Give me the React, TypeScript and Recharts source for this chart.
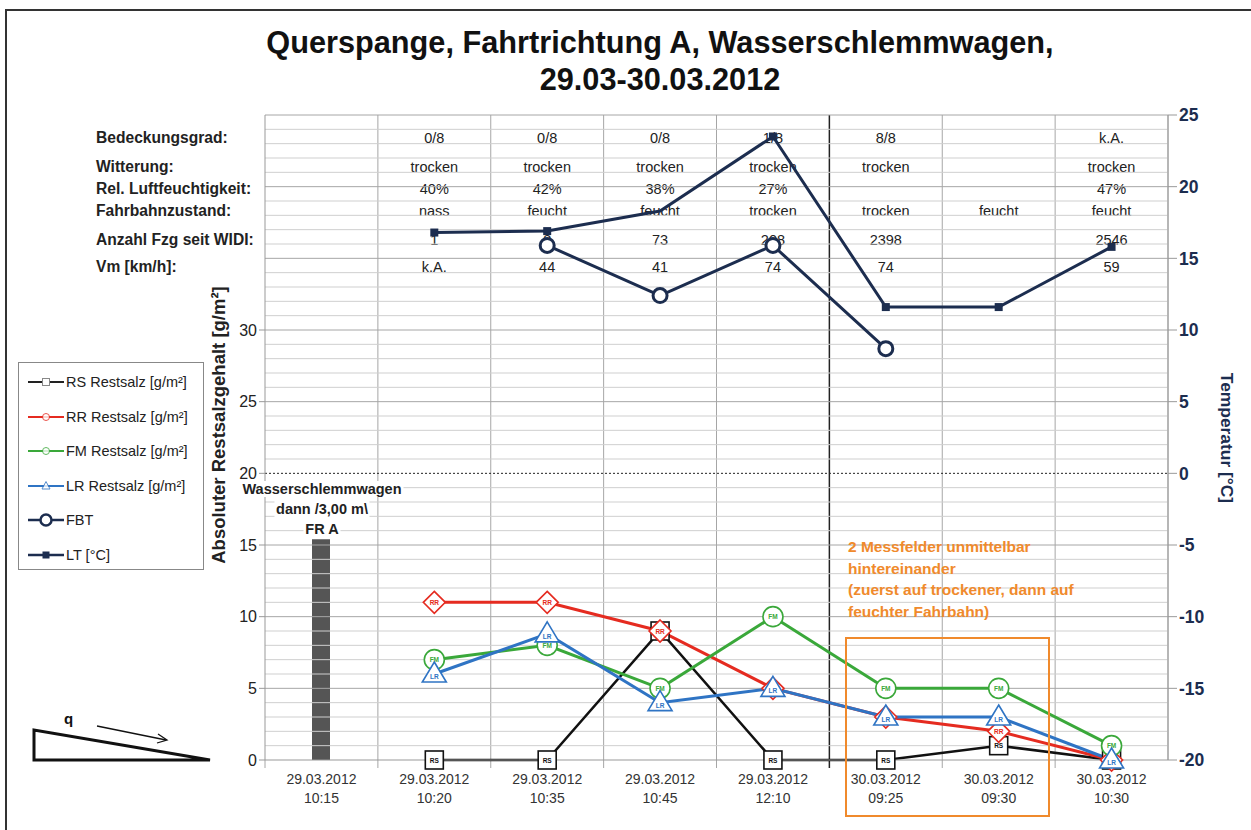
import React from 'react';
import { ComposedChart, Line, Bar, XAxis, YAxis, ReferenceLine } from 'recharts';

// categories (measurement times)
const DATES = ['29.03.2012', '29.03.2012', '29.03.2012', '29.03.2012', '29.03.2012', '30.03.2012', '30.03.2012', '30.03.2012'];
const TIMES = ['10:15', '10:20', '10:35', '10:45', '12:10', '09:25', '09:30', '10:30'];

// residual salt [g/m²], left axis
const SCHLEMM = [15.4, null, null, null, null, null, null, null];
const RS = [null, 0, 0, 9, 0, 0, 1, 0];
const RR = [null, 11, 11, 9, 5, 3, 2, 0];
const FM = [null, 7, 8, 5, 10, 5, 5, 1];
const LR = [null, 6, 8.8, 4, 5, 3, 3, 0];

// temperatures [°C], right axis
const FBT = [null, null, 15.9, 12.4, 15.9, 8.7, null, null];
const LT = [null, 16.8, 16.9, 18.3, 23.5, 11.6, 11.6, 15.8];

// header table
const ROW_LABELS = ['Bedeckungsgrad:', 'Witterung:', 'Rel. Luftfeuchtigkeit:', 'Fahrbahnzustand:', 'Anzahl Fzg seit WIDI:', 'Vm [km/h]:'];
const BEDECKUNG = ['', '0/8', '0/8', '0/8', '1/8', '8/8', '', 'k.A.'];
const WITTERUNG = ['', 'trocken', 'trocken', 'trocken', 'trocken', 'trocken', '', 'trocken'];
const FEUCHTE = ['', '40%', '42%', '38%', '27%', '', '', '47%'];
const FAHRBAHN = ['', 'nass', 'feucht', 'feucht', 'trocken', 'trocken', 'feucht', 'feucht'];
const ANZAHL = ['', '1', '8', '73', '208', '2398', '', '2546'];
const VM = ['', 'k.A.', '44', '41', '74', '74', '', '59'];
const TABLE = [BEDECKUNG, WITTERUNG, FEUCHTE, FAHRBAHN, ANZAHL, VM];

const LEFT_TICKS = [0, 5, 10, 15, 20, 25, 30];
const RIGHT_TICKS = [-20, -15, -10, -5, 0, 5, 10, 15, 20, 25];
const GRID_VALUES = Array.from({ length: 45 }, (_, i) => i + 1);

const W = 1251;
const H = 830;
const PLOT_LEFT = 265;
const PLOT_RIGHT = 1168;
const PLOT_TOP = 115;
const PLOT_BOTTOM = 760;
const BAND = (PLOT_RIGHT - PLOT_LEFT) / TIMES.length;
const ROW_Y = [138, 167, 189, 211, 240, 267];

const FONT = '"Liberation Sans", Arial, sans-serif';
const NAVY = '#1c2d4f';
const RED = '#e52b20';
const GREEN = '#3aa83a';
const BLUE = '#2f74c4';
const ORANGE = '#f08a2c';

const data = TIMES.map((t, i) => ({
  cat: DATES[i] + '|' + t,
  schlemm: SCHLEMM[i],
  rs: RS[i],
  rr: RR[i],
  fm: FM[i],
  lr: LR[i],
  fbt: FBT[i],
  lt: LT[i],
}));

function DateTick({ x, y, payload }: any) {
  const [d, t] = String(payload.value).split('|');
  return (
    <text x={x} y={y} textAnchor="middle" fontSize={14} fill="#333" fontFamily={FONT}>
      <tspan x={x} dy={16}>{d}</tspan>
      <tspan x={x} dy={19}>{t}</tspan>
    </text>
  );
}

const tag = (label: string, color: string, dy = 2.5) => (
  <text x={0} y={dy} textAnchor="middle" fontSize={6.5} fontWeight="bold" fill={color} fontFamily={FONT}>
    {label}
  </text>
);

function RsDot({ cx, cy }: any) {
  if (cx == null || cy == null) return <g />;
  return (
    <g transform={`translate(${cx},${cy})`}>
      <rect x={-9} y={-9} width={18} height={18} fill="#fff" stroke="#111" strokeWidth={1.6} />
      {tag('RS', '#111')}
    </g>
  );
}

function RrDot({ cx, cy }: any) {
  if (cx == null || cy == null) return <g />;
  return (
    <g transform={`translate(${cx},${cy})`}>
      <polygon points="0,-11 11,0 0,11 -11,0" fill="#fff" stroke={RED} strokeWidth={1.6} />
      {tag('RR', RED)}
    </g>
  );
}

function FmDot({ cx, cy }: any) {
  if (cx == null || cy == null) return <g />;
  return (
    <g transform={`translate(${cx},${cy})`}>
      <circle r={10} fill="#fff" stroke={GREEN} strokeWidth={1.6} />
      {tag('FM', GREEN)}
    </g>
  );
}

function LrDot({ cx, cy }: any) {
  if (cx == null || cy == null) return <g />;
  return (
    <g transform={`translate(${cx},${cy})`}>
      <polygon points="0,-12 12,8 -12,8" fill="#fff" stroke={BLUE} strokeWidth={1.6} />
      {tag('LR', BLUE, 5)}
    </g>
  );
}

function FbtDot({ cx, cy }: any) {
  if (cx == null || cy == null) return <g />;
  return <circle cx={cx} cy={cy} r={7} fill="#fff" stroke={NAVY} strokeWidth={3} />;
}

function LtDot({ cx, cy, index }: any) {
  // no marker visible at 10:45 in the original
  if (cx == null || cy == null || index === 3) return <g />;
  return <rect x={cx - 4} y={cy - 4} width={8} height={8} fill={NAVY} />;
}

// vertical separators between the categories (Excel style), day change in black
function CategoryBorders() {
  return (
    <g>
      {TIMES.map((_, i) => {
        const b = i + 1;
        const x = PLOT_LEFT + BAND * b;
        const dayChange = b === 5;
        return (
          <line
            key={b}
            x1={x}
            x2={x}
            y1={PLOT_TOP}
            y2={PLOT_BOTTOM + (b === TIMES.length ? 0 : 8)}
            stroke={dayChange ? '#222' : '#a6a6a6'}
            strokeWidth={dayChange ? 1.5 : 1}
          />
        );
      })}
      <line x1={PLOT_LEFT} x2={PLOT_LEFT} y1={PLOT_BOTTOM} y2={PLOT_BOTTOM + 8} stroke="#a6a6a6" />
    </g>
  );
}

// header table texts, drawn inside the svg so the series run over them
function TableTexts() {
  return (
    <g>
      {TABLE.map((row, r) =>
        row.map((txt, i) => {
          if (!txt) return null;
          const cx = PLOT_LEFT + BAND * (i + 0.5);
          const w = txt.length * 7.6 + 8;
          return (
            <g key={r + '-' + i}>
              <rect x={cx - w / 2} y={ROW_Y[r] - 9} width={w} height={17} fill="#fff" />
              <text x={cx} y={ROW_Y[r] + 5} textAnchor="middle" fontSize={14.5} fill="#222" fontFamily={FONT}>
                {txt}
              </text>
            </g>
          );
        })
      )}
    </g>
  );
}

const LEGEND = [
  { label: 'RS Restsalz [g/m²]', color: '#222', mark: 'sq' },
  { label: 'RR Restsalz [g/m²]', color: RED, mark: 'ci' },
  { label: 'FM Restsalz [g/m²]', color: GREEN, mark: 'ci' },
  { label: 'LR Restsalz [g/m²]', color: BLUE, mark: 'tr' },
  { label: 'FBT', color: NAVY, mark: 'big' },
  { label: 'LT [°C]', color: NAVY, mark: 'fill' },
];

function LegendMark({ color, mark }: { color: string; mark: string }) {
  return (
    <svg width={38} height={16} style={{ display: 'block' }}>
      <line x1={1} y1={8} x2={37} y2={8} stroke={color} strokeWidth={mark === 'big' || mark === 'fill' ? 2.5 : 2} />
      {mark === 'sq' && <rect x={15.5} y={4.5} width={7} height={7} fill="#fff" stroke="#888" strokeWidth={1} />}
      {mark === 'ci' && <circle cx={19} cy={8} r={3.5} fill="#fff" stroke={color} strokeWidth={1} opacity={0.8} />}
      {mark === 'tr' && <polygon points="19,3.5 23,11 15,11" fill="#fff" stroke={color} strokeWidth={1} opacity={0.8} />}
      {mark === 'big' && <circle cx={19} cy={8} r={5.5} fill="#fff" stroke={color} strokeWidth={2.5} />}
      {mark === 'fill' && <rect x={15.5} y={4.5} width={7} height={7} fill={color} />}
    </svg>
  );
}

export default function App() {
  const abs = (s: React.CSSProperties): React.CSSProperties => ({ position: 'absolute', ...s });
  const lineBg: React.CSSProperties = { background: '#fff', padding: '0 2px' };

  return (
    <div style={{ position: 'absolute', left: 0, top: 0, width: W, height: H, background: '#fff', fontFamily: FONT, overflow: 'hidden' }}>
      <div style={abs({ left: 5, top: 9, width: W, height: H, borderTop: '2px solid #333', borderLeft: '2px solid #333' })} />

      <ComposedChart
        width={W}
        height={H}
        data={data}
        margin={{ top: PLOT_TOP, right: W - PLOT_RIGHT - 60, bottom: H - PLOT_BOTTOM - 50, left: PLOT_LEFT - 40 }}
      >
        <XAxis
          dataKey="cat"
          interval={0}
          tick={<DateTick />}
          tickLine={false}
          axisLine={{ stroke: '#999' }}
          height={50}
        />
        <YAxis
          yAxisId="left"
          domain={[0, 45]}
          ticks={LEFT_TICKS}
          width={40}
          tick={{ fontSize: 16, fill: '#222', fontFamily: FONT }}
          tickLine={{ stroke: '#999' }}
          axisLine={{ stroke: '#999' }}
          tickSize={6}
        />
        <YAxis
          yAxisId="right"
          orientation="right"
          domain={[-20, 25]}
          ticks={RIGHT_TICKS}
          width={60}
          tick={{ fontSize: 17.5, fill: NAVY, fontWeight: 'bold', fontFamily: FONT }}
          tickLine={{ stroke: '#999' }}
          axisLine={{ stroke: '#999' }}
          tickSize={9}
        />

        {GRID_VALUES.map((v) => (
          <ReferenceLine
            key={'h' + v}
            yAxisId="left"
            y={v}
            stroke={v === 20 ? '#222' : v % 5 === 0 ? '#a6a6a6' : '#cfcfcf'}
            strokeDasharray={v === 20 ? '2 2' : undefined}
            strokeWidth={1}
          />
        ))}

        <CategoryBorders />
        <TableTexts />

        <Bar yAxisId="left" dataKey="schlemm" fill="#555" barSize={18} isAnimationActive={false} />
        <Line yAxisId="left" dataKey="rs" stroke="#111" strokeWidth={2.5} dot={(p: any) => <RsDot key={p.index} {...p} />} isAnimationActive={false} />
        <Line yAxisId="left" dataKey="rr" stroke={RED} strokeWidth={3} dot={(p: any) => <RrDot key={p.index} {...p} />} isAnimationActive={false} />
        <Line yAxisId="left" dataKey="fm" stroke={GREEN} strokeWidth={3} dot={(p: any) => <FmDot key={p.index} {...p} />} isAnimationActive={false} />
        <Line yAxisId="left" dataKey="lr" stroke={BLUE} strokeWidth={3} dot={(p: any) => <LrDot key={p.index} {...p} />} isAnimationActive={false} />
        <Line yAxisId="right" dataKey="fbt" stroke={NAVY} strokeWidth={3} dot={(p: any) => <FbtDot key={p.index} {...p} />} isAnimationActive={false} />
        <Line yAxisId="right" dataKey="lt" stroke={NAVY} strokeWidth={3} dot={(p: any) => <LtDot key={p.index} {...p} />} isAnimationActive={false} />
      </ComposedChart>

      {/* title */}
      <div style={abs({ left: 0, top: 24, width: 1320, textAlign: 'center', fontSize: 30.7, fontWeight: 'bold', color: '#111', lineHeight: '37px' })}>
        Querspange, Fahrtrichtung A, Wasserschlemmwagen,
        <br />
        29.03-30.03.2012
      </div>

      {/* row labels */}
      {ROW_LABELS.map((l, i) => (
        <div key={l} style={abs({ left: 96, top: ROW_Y[i] - 10, fontSize: 15.6, fontWeight: 'bold', color: '#222', lineHeight: '20px', whiteSpace: 'nowrap' })}>
          {l}
        </div>
      ))}

      {/* axis titles */}
      <div style={abs({ left: 219, top: 425, transform: 'translate(-50%,-50%) rotate(-90deg)', fontSize: 18.5, fontWeight: 'bold', color: '#222', whiteSpace: 'nowrap' })}>
        Absoluter Restsalzgehalt [g/m²]
      </div>
      <div style={abs({ left: 1226, top: 438, transform: 'translate(-50%,-50%) rotate(90deg)', fontSize: 17.4, fontWeight: 'bold', color: NAVY, whiteSpace: 'nowrap' })}>
        Temperatur [°C]
      </div>

      {/* annotations */}
      <div style={abs({ left: 322, top: 479, transform: 'translateX(-50%)', textAlign: 'center', fontSize: 14.5, fontWeight: 'bold', color: '#222', lineHeight: '20px', whiteSpace: 'nowrap' })}>
        <span style={lineBg}>Wasserschlemmwagen</span>
        <br />
        <span style={lineBg}>dann /3,00 m\</span>
        <br />
        <span style={lineBg}>FR A</span>
      </div>
      <div style={abs({ left: 848, top: 536, fontSize: 15.5, fontWeight: 'bold', color: ORANGE, lineHeight: '21.7px', whiteSpace: 'nowrap' })}>
        2 Messfelder unmittelbar
        <br />
        hintereinander
        <br />
        (zuerst auf trockener, dann auf
        <br />
        feuchter Fahrbahn)
      </div>
      <div style={abs({ left: 845, top: 637, width: 205, height: 180, border: '2.5px solid ' + ORANGE, boxSizing: 'border-box' })} />

      {/* legend */}
      <div style={abs({ left: 18, top: 362, width: 186, height: 208, border: '1px solid #888', boxSizing: 'border-box', background: '#fff' })}>
        {LEGEND.map((it, i) => (
          <div key={it.label} style={abs({ left: 8, top: 11 + i * 34.5, display: 'flex', alignItems: 'center', gap: 1 })}>
            <LegendMark color={it.color} mark={it.mark} />
            <span style={{ fontSize: 14.5, color: '#222', whiteSpace: 'nowrap' }}>{it.label}</span>
          </div>
        ))}
      </div>

      {/* slope sketch */}
      <svg style={abs({ left: 0, top: 700 })} width={240} height={80}>
        <polygon points="34,30 34,60 210,60" fill="none" stroke="#111" strokeWidth={3} strokeLinejoin="miter" />
        <text x={64} y={24} fontSize={15} fontWeight="bold" fill="#111" fontFamily={FONT}>q</text>
        <line x1={97} y1={26} x2={166} y2={40} stroke="#111" strokeWidth={1.3} />
        <polyline points="158,34 167,40 157,43" fill="none" stroke="#111" strokeWidth={1.3} />
      </svg>
    </div>
  );
}
